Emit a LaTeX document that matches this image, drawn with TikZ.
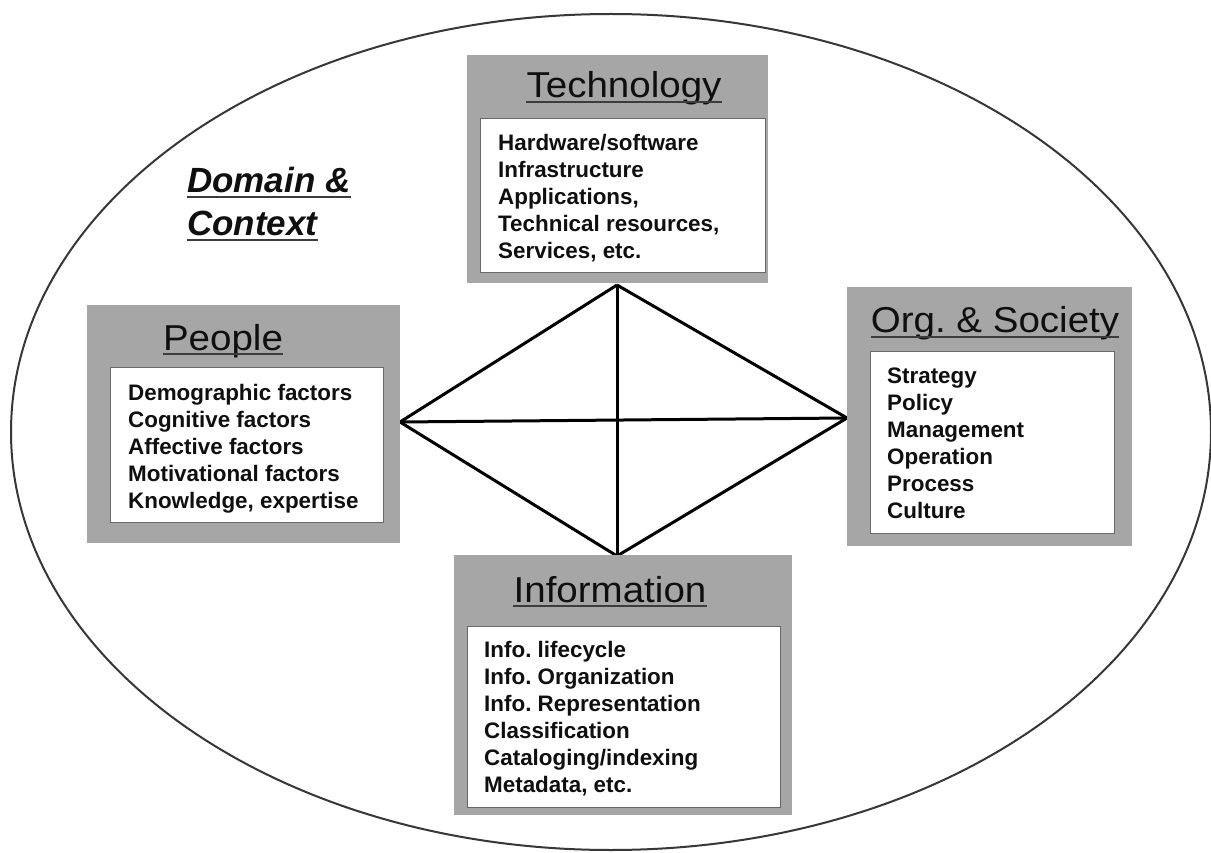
\documentclass[tikz,border=0pt]{standalone}
\usepackage{fontspec}
\setmainfont{Liberation Sans}
\newfontfamily\titlefont{Liberation Sans}[FakeStretch=1.07]
\usetikzlibrary{shapes.geometric}
\definecolor{boxgray}{RGB}{166,166,166}
\definecolor{bordergray}{RGB}{105,105,105}
\definecolor{ulgray}{RGB}{60,60,60}
\definecolor{ellgray}{RGB}{55,55,55}
\definecolor{txt}{RGB}{15,15,15}
\begin{document}
\frenchspacing
\begin{tikzpicture}[x=1pt,y=-1pt,
  outerbox/.style={fill=boxgray, draw=none, anchor=north west, inner sep=0pt},
  innerbox/.style={fill=white, draw=bordergray, line width=1.3pt, anchor=north west, inner sep=0pt},
  titletext/.style={font=\titlefont\fontsize{36}{40}\selectfont, text=txt, inner sep=0pt, anchor=base},
  domtext/.style={font=\fontsize{35}{40}\selectfont\bfseries\itshape, text=txt, inner sep=0pt, anchor=base west},
  items/.style={font=\fontsize{22.4}{27}\selectfont\bfseries, text=txt, align=left, inner sep=0pt, anchor=north west},
  uline/.style={line width=2pt, draw=ulgray},
  edgeline/.style={line width=3pt, draw=black, line join=round}
]
\useasboundingbox (0,0) rectangle (1211,853);
\fill[white] (0,0) rectangle (1211,853);

% domain ellipse
\node[ellipse, draw=ellgray, line width=2pt, minimum width=1200pt, minimum height=836pt, inner sep=0pt] (ctx) at (611,432) {};

% diamond
\coordinate (L) at (400,422);
\coordinate (R) at (847,418);
\coordinate (T) at (617,285);
\coordinate (B) at (617,556);
\draw[edgeline] (L) -- (T);
\draw[edgeline] (T) -- (R);
\draw[edgeline] (R) -- (B);
\draw[edgeline] (B) -- (L);
\draw[edgeline] (L) -- (R);
\draw[edgeline] (T) -- (B);

% Technology
\node[outerbox, minimum width=301pt, minimum height=228pt] (tech) at (467,55) {};
\node[innerbox, minimum width=285pt, minimum height=154pt] (techin) at (480,118) {};
\node[titletext] (techt) at (624,98) {Technology};
\draw[uline] ([yshift=-4pt]techt.base west) -- ([yshift=-4pt]techt.base east);
\node[items] (techi) at (498,134) {Hardware/software\\Infrastructure\\Applications,\\Technical resources,\\Services, etc.};

% People
\node[outerbox, minimum width=313pt, minimum height=238pt] (people) at (87,305) {};
\node[innerbox, minimum width=273pt, minimum height=155pt] (peoplein) at (110,367) {};
\node[titletext] (peoplet) at (223,350) {People};
\draw[uline] ([yshift=-4pt]peoplet.base west) -- ([yshift=-4pt]peoplet.base east);
\node[items] (peoplei) at (128,384) {Demographic factors\\Cognitive factors\\Affective factors\\Motivational factors\\Knowledge, expertise};

% Org & Society
\node[outerbox, minimum width=285pt, minimum height=259pt] (org) at (847,287) {};
\node[innerbox, minimum width=244pt, minimum height=182pt] (orgin) at (870,351) {};
\node[titletext] (orgt) at (995,333) {Org. \& Society};
\draw[uline] ([yshift=-4pt]orgt.base west) -- ([yshift=-4pt]orgt.base east);
\node[items] (orgi) at (887,368) {Strategy\\Policy\\Management\\Operation\\Process\\Culture};

% Information
\node[outerbox, minimum width=338pt, minimum height=260pt] (info) at (454,555) {};
\node[innerbox, minimum width=313pt, minimum height=181pt] (infoin) at (467,626) {};
\node[titletext] (infot) at (610,602) {Information};
\draw[uline] ([yshift=-4pt]infot.base west) -- ([yshift=-4pt]infot.base east);
\node[items] (infoi) at (484,641) {Info. lifecycle\\Info. Organization\\Info. Representation\\Classification\\Cataloging/indexing\\Metadata, etc.};

% Domain & Context
\node[domtext] (dom1) at (187,193) {Domain \&};
\draw[uline] ([yshift=-4pt]dom1.base west) -- ([yshift=-4pt]dom1.base east);
\node[domtext] (dom2) at (187,236) {Context};
\draw[uline] ([yshift=-4pt]dom2.base west) -- ([yshift=-4pt]dom2.base east);
\end{tikzpicture}
\end{document}
